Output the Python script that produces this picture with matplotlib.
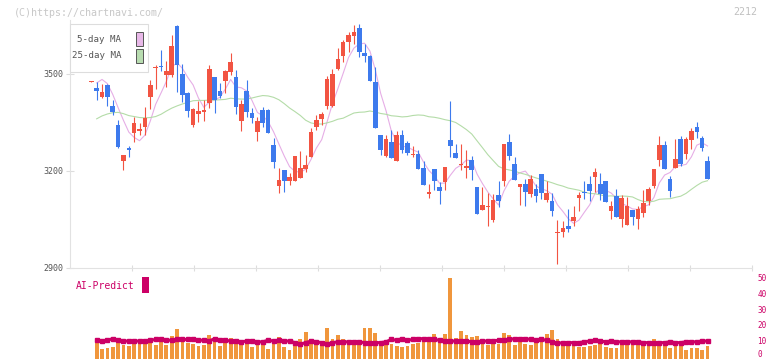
import numpy as np
import pandas as pd
import matplotlib.pyplot as plt
from matplotlib.patches import Rectangle
from matplotlib.transforms import offset_copy, blended_transform_factory

# daily candles, oldest first
opens = [3476, 3457, 3430, 3467, 3402, 3343, 3229, 3270, 3317, 3324,
         3337, 3430, 3517, 3526, 3498, 3498, 3647, 3501, 3441, 3343,
         3376, 3381, 3410, 3490, 3448, 3479, 3506, 3490, 3353, 3448,
         3379, 3319, 3389, 3387, 3281, 3154, 3203, 3167, 3167, 3179,
         3206, 3244, 3337, 3360, 3401, 3401, 3516, 3557, 3598, 3616,
         3642, 3566, 3554, 3474, 3312, 3247, 3288, 3229, 3312, 3286,
         3249, 3253, 3208, 3129, 3205, 3149, 3164, 3296, 3256, 3218,
         3208, 3234, 3151, 3079, 3088, 3048, 3126, 3167, 3288, 3222,
         3149, 3160, 3129, 3143, 3190, 3110, 3108, 3006, 3009, 3030,
         3046, 3117, 3135, 3160, 3182, 3160, 3169, 3077, 3123, 3050,
         3033, 3079, 3050, 3069, 3108, 3153, 3232, 3281, 3175, 3210,
         3298, 3253, 3296, 3337, 3303, 3231]
highs = [3479, 3476, 3470, 3470, 3420, 3358, 3250, 3277, 3366, 3348,
         3397, 3482, 3528, 3575, 3539, 3622, 3653, 3531, 3443, 3395,
         3415, 3418, 3529, 3491, 3473, 3513, 3565, 3513, 3420, 3482,
         3394, 3366, 3397, 3391, 3301, 3208, 3203, 3193, 3246, 3262,
         3250, 3332, 3374, 3381, 3494, 3515, 3580, 3606, 3629, 3653,
         3656, 3594, 3560, 3523, 3312, 3312, 3327, 3324, 3327, 3293,
         3278, 3265, 3229, 3160, 3205, 3164, 3211, 3415, 3284, 3284,
         3263, 3246, 3151, 3151, 3131, 3128, 3167, 3284, 3315, 3244,
         3160, 3174, 3188, 3160, 3190, 3167, 3131, 3048, 3046, 3081,
         3092, 3133, 3170, 3184, 3209, 3193, 3169, 3105, 3144, 3126,
         3120, 3079, 3092, 3141, 3151, 3205, 3309, 3291, 3185, 3298,
         3309, 3306, 3332, 3350, 3309, 3246]
lows = [3476, 3420, 3426, 3402, 3374, 3270, 3203, 3244, 3288, 3311,
        3311, 3391, 3453, 3508, 3461, 3492, 3443, 3412, 3368, 3337,
        3350, 3353, 3394, 3379, 3424, 3441, 3498, 3377, 3322, 3368,
        3348, 3291, 3335, 3317, 3210, 3131, 3134, 3157, 3167, 3179,
        3195, 3244, 3327, 3343, 3391, 3397, 3513, 3536, 3567, 3594,
        3552, 3536, 3477, 3332, 3250, 3242, 3241, 3229, 3255, 3250,
        3242, 3207, 3157, 3117, 3141, 3098, 3141, 3244, 3241, 3203,
        3179, 3172, 3067, 3079, 3030, 3040, 3089, 3153, 3232, 3172,
        3095, 3092, 3118, 3103, 3113, 3103, 3059, 2911, 2994, 3009,
        3030, 3077, 3114, 3105, 3133, 3110, 3102, 3051, 3058, 3025,
        3033, 3033, 3021, 3056, 3095, 3146, 3215, 3205, 3120, 3208,
        3215, 3237, 3267, 3301, 3260, 3174]
closes = [3479, 3447, 3445, 3430, 3381, 3275, 3250, 3263, 3348, 3330,
          3362, 3467, 3522, 3523, 3510, 3588, 3529, 3436, 3384, 3392,
          3384, 3387, 3515, 3420, 3432, 3510, 3537, 3399, 3408, 3381,
          3362, 3353, 3348, 3317, 3226, 3172, 3167, 3182, 3246, 3210,
          3219, 3319, 3358, 3377, 3485, 3501, 3547, 3599, 3622, 3630,
          3567, 3557, 3477, 3332, 3265, 3299, 3241, 3312, 3263, 3255,
          3253, 3207, 3157, 3134, 3170, 3139, 3211, 3277, 3241, 3222,
          3215, 3203, 3067, 3095, 3091, 3110, 3108, 3284, 3247, 3172,
          3160, 3133, 3175, 3123, 3131, 3131, 3077, 3011, 3022, 3019,
          3058, 3126, 3132, 3138, 3197, 3129, 3102, 3091, 3058, 3115,
          3090, 3056, 3083, 3100, 3144, 3205, 3281, 3205, 3139, 3236,
          3222, 3298, 3322, 3319, 3272, 3174]

# moving averages need history before the window: first values
ma5_head = [np.nan, 3472, 3483, 3470]
ma25_head = [np.nan, 3361, 3370, 3376, 3380, 3381, 3377, 3371, 3368, 3365,
             3364, 3365, 3368, 3375, 3385, 3394, 3401, 3407, 3412, 3417,
             3418, 3418, 3419, 3419]

# volume panel (right scale 0-50) and AI-Predict line
volume = [np.nan, 9.4, 5.5, 6.2, 6.8, 9.5, 8, 7.6, 11, 11,
          11, 10, 8, 12, 8, 13.5, 18, 12.5, 9.5, 8.5,
          7.5, 8, 14, 10, 7.5, 10, 12.5, 10.5, 8, 9,
          7, 8.5, 8.5, 5.5, 10, 13, 7, 5, 10, 11.5,
          16, 12, 9.5, 10.5, 19, 12, 14.5, 12, 10, 9,
          9, 19, 19, 15.5, 10, 9.5, 8.5, 7.5, 7, 7.5,
          8.5, 9, 12, 10.5, 15, 12.5, 15, 50, 12.3, 17,
          14.5, 13.3, 13.8, 10.7, 8, 10, 8.5, 15.7, 14.3, 8,
          10, 8.5, 8, 9, 13, 14.8, 17.4, 12, 9.5, 10,
          7.5, 7, 7, 7.5, 8, 9.5, 6.5, 6, 6, 9.5,
          9, 8, 9, 8.5, 10, 12, 10, 8, 6, 10,
          7.5, 5, 6, 6, 5, 7.5]
ai_predict = [np.nan, 11, 10.5, 11, 12, 11, 10.5, 10.5, 10.5, 10.5,
              10.5, 11, 11.5, 11.5, 11, 11, 11.5, 11.5, 11.5, 12,
              11, 11, 10.5, 12, 11, 11, 10.5, 10.5, 10, 10.5,
              10.5, 10, 10, 11, 10.5, 11, 10.5, 10.5, 9.5, 8.5,
              9.5, 10.5, 10, 9.5, 8.5, 9.5, 10, 10, 10, 10,
              10, 9.5, 9.5, 9.5, 9.5, 10, 11.5, 11, 12, 11,
              11.5, 12, 12, 11.5, 11.5, 11, 10.5, 10.5, 10.5, 10.5,
              10.5, 10, 10, 10.5, 10.5, 10.5, 11, 11, 11.5, 12,
              12, 12, 11.5, 11, 11.5, 11, 10, 9, 9.5, 9.5,
              9.5, 9.5, 10, 10.5, 11, 10.5, 10, 10.5, 10, 10,
              10, 10, 10, 9.5, 9.5, 9, 9.5, 9.5, 10, 9.5,
              9.5, 10, 10, 10, 10.5, 10.5]
vol_ticks = [0, 10, 20, 30, 40, 50]

date_labels = ['2/12', '2/27', '3/13', '3/30', '4/13', '4/27',
               '5/15', '5/29', '6/12', '6/26', '7/10']
date_pos = [14.7, 25.7, 34.7, 44.9, 54.8, 64.7, 74.8, 84.9, 94.8, 104.9, 114.9]

df = pd.DataFrame({'open': opens, 'high': highs, 'low': lows, 'close': closes,
                   'vol': volume, 'ai': ai_predict})
df['ma5'] = df['close'].rolling(5).mean()
df.loc[:len(ma5_head) - 1, 'ma5'] = ma5_head
df['ma25'] = df['close'].rolling(25).mean()
df.loc[:len(ma25_head) - 1, 'ma25'] = ma25_head
x = np.arange(len(df))

RED = '#f25442'
BLUE = '#3d7aed'
W, H = 772, 361
plt.rcParams['font.family'] = ['DejaVu Sans Mono']

fig = plt.figure(figsize=(W / 100, H / 100), dpi=100)


def fbox(x0, y0, x1, y1):
    # pixel box (top-left origin) -> figure fraction [l, b, w, h]
    return [x0 / W, 1 - y1 / H, (x1 - x0) / W, (y1 - y0) / H]


xlim = (-3.98, 123.3)

# ---- price panel
ax = fig.add_axes(fbox(70, 20, 752, 267.7))
up = df['close'] >= df['open']
colors = np.where(up, RED, BLUE)
ax.vlines(x, df['low'], df['high'], colors=colors, linewidth=0.8, zorder=2)
body_bot = np.minimum(df['open'], df['close'])
body_h = np.maximum((df['close'] - df['open']).abs(), 3)
ax.bar(x, body_h, bottom=body_bot, width=0.86, color=colors, linewidth=0, zorder=3)
ax.plot(x, df['ma5'], color='#e6aee6', linewidth=0.8, zorder=1)
ax.plot(x, df['ma25'], color='#b4dca8', linewidth=0.8, zorder=1)

ax.set_xlim(xlim)
ax.set_ylim(2900, 3667)
for s in ['top', 'right']:
    ax.spines[s].set_visible(False)
for s in ['left', 'bottom']:
    ax.spines[s].set_color('#e2e2e2')
ax.set_yticks([2900, 3200, 3500])
ax.set_yticklabels(['2900', '3200', '3500'])
ax.tick_params(axis='y', direction='inout', length=6, width=0.8, color='#dddddd',
               labelsize=6, labelcolor='#555555', pad=2)
ax.set_xticks(date_pos)
ax.set_xticklabels(date_labels)
ax.tick_params(axis='x', which='major', length=0, labelsize=6, labelcolor='#555555', pad=10)
ax.set_xticks([xlim[0] + k * (xlim[1] - xlim[0]) / 11 for k in range(1, 12)], minor=True)
ax.tick_params(axis='x', which='minor', direction='inout', length=5, width=0.8, color='#dddddd')

# legend box
leg = fbox(70, 24, 148, 72)
fig.add_artist(Rectangle((leg[0], leg[1]), leg[2], leg[3], transform=fig.transFigure,
                         facecolor='white', edgecolor='#dddddd', linewidth=0.8, zorder=5))
for label, col, yc in [('5-day MA', '#e8b8e8', 39), ('25-day MA', '#b8dcb0', 55.5)]:
    fig.text(121 / W, 1 - yc / H, label, ha='right', va='center', fontsize=6.6,
             color='#555555', zorder=6)
    b = fbox(136, yc - 7, 143, yc + 7)
    fig.add_artist(Rectangle((b[0], b[1]), b[2], b[3], transform=fig.transFigure,
                             facecolor=col, edgecolor='#555555', linewidth=0.7, zorder=6))

fig.text(14 / W, 1 - 12.5 / H, '(C)https://chartnavi.com/', ha='left', va='center',
         fontsize=7.2, color='#c8c8c8')
fig.text(757 / W, 1 - 12 / H, '2212', ha='right', va='center', fontsize=7.2, color='#c0c0c0')

# ---- volume / AI-Predict panel
ax2 = fig.add_axes(fbox(70, 278.3, 752, 359))
floor = -0.8
ax2.bar(x, df['vol'] - floor, bottom=floor, width=0.7, color='#f0963c', linewidth=0)
ax2.plot(x, df['ai'], color='#cc0066', linewidth=2.2, marker='s', markersize=2.2)
ax2.set_xlim(xlim)
ax2.set_ylim(floor, 50)
for s in ax2.spines.values():
    s.set_visible(False)
ax2.set_xticks([])
ax2.set_yticks([])

# right scale labels (the "0" nudged up so it stays inside the picture)
tr = blended_transform_factory(ax2.transAxes, ax2.transData)
for v in vol_ticks:
    t = offset_copy(tr, fig=fig, x=4, y=2.2 if v == 0 else 0, units='points')
    ax2.text(1.0, v, str(v), transform=t, ha='left', va='center', fontsize=5.5,
             color='#cc0066', clip_on=False)

fig.text(76 / W, 1 - 286 / H, 'AI-Predict', ha='left', va='center', fontsize=7, color='#cc0066')
sw = fbox(142, 277, 149, 293)
fig.add_artist(Rectangle((sw[0], sw[1]), sw[2], sw[3], transform=fig.transFigure,
                         facecolor='#cc0066', edgecolor='none'))

fig.savefig('out.png', dpi=100)
